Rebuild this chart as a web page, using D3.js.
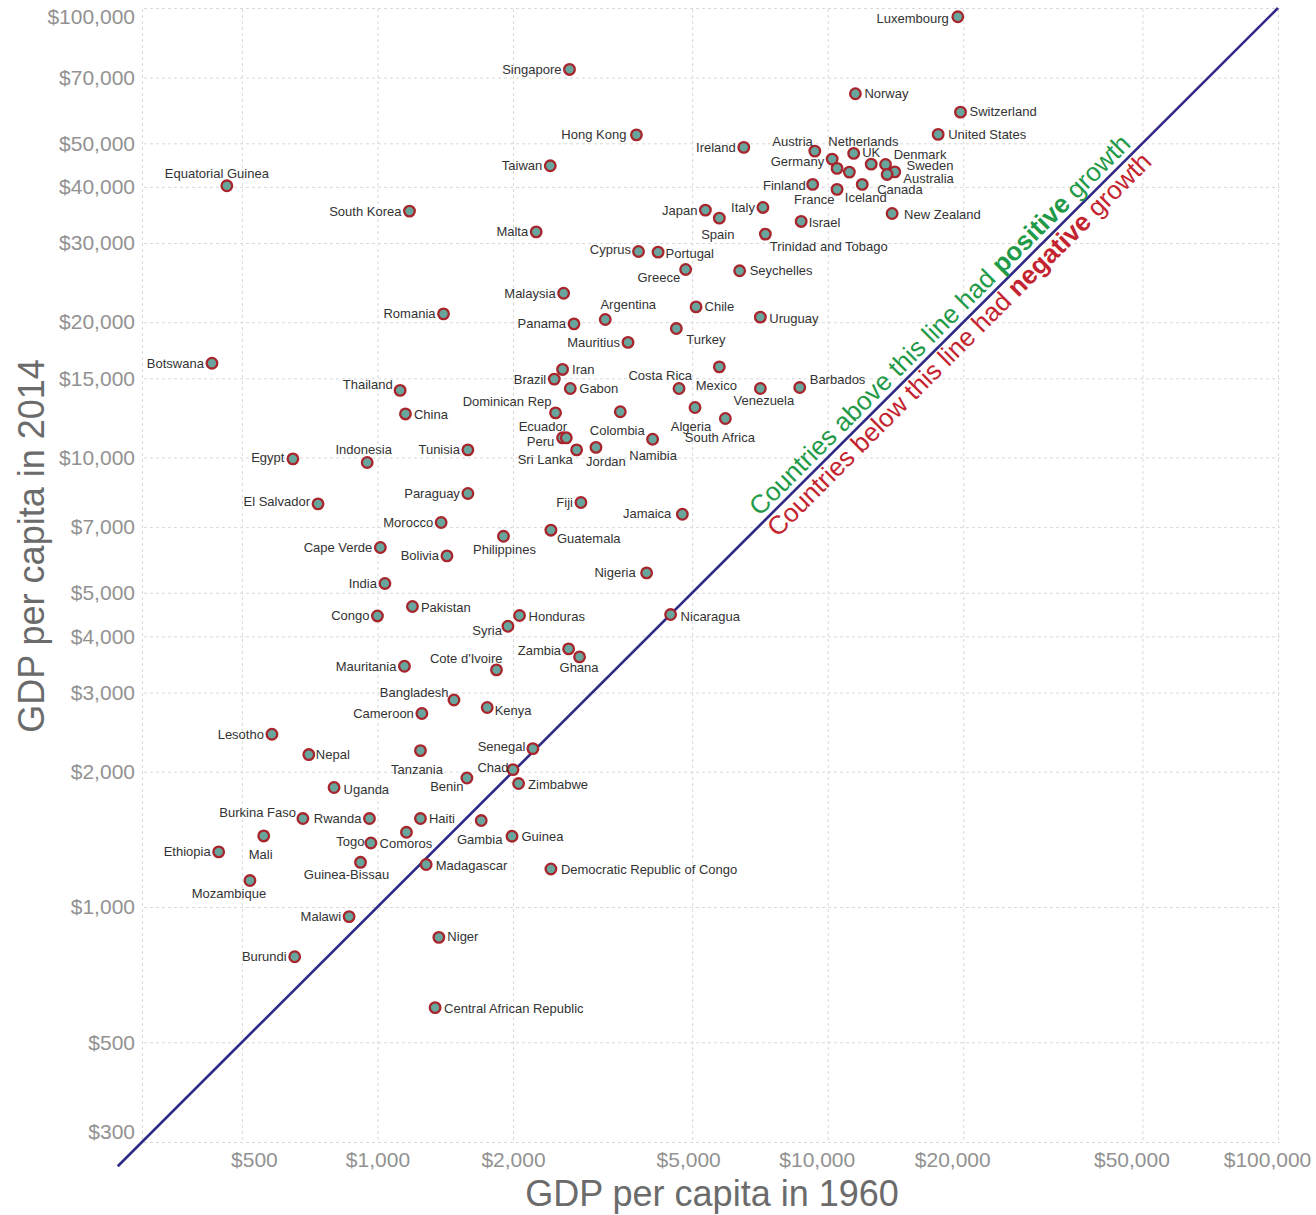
<!DOCTYPE html>
<html>
<head>
<meta charset="utf-8">
<script src="https://cdn.jsdelivr.net/npm/d3@7"></script>
<style>
  body { margin: 0; background: #fff; }
  svg { display: block; font-family: "Helvetica Neue", Helvetica, "Liberation Sans", Arial, sans-serif; }
  .grid line { stroke: #d9d9d9; stroke-dasharray: 3,3; }
  .grid .domain, .ticks .domain { display: none; }
  .ticks text { fill: #929292; font-size: 21px; font-family: inherit; }
  .country { fill: #333; font-size: 13px; }
</style>
</head>
<body>
<svg id="chart" width="1316" height="1215"></svg>
<script>
/* GDP per capita 1960 vs 2014, log-log scatter */
const countries = [
  'Luxembourg', 'Singapore', 'Norway', 'Switzerland', 'United States', 'Hong Kong', 'Ireland', 'Taiwan',
  'Equatorial Guinea', 'South Korea', 'Malta', 'Austria', 'Netherlands', 'UK', 'Germany', 'Belgium',
  'Denmark', 'Sweden', 'Australia', 'Canada', 'Finland', 'France', 'Iceland', 'Japan', 'Spain', 'Italy',
  'Trinidad and Tobago', 'Israel', 'New Zealand', 'Cyprus', 'Portugal', 'Greece', 'Seychelles', 'Malaysia',
  'Argentina', 'Chile', 'Uruguay', 'Panama', 'Turkey', 'Mauritius', 'Romania', 'Botswana', 'Thailand',
  'China', 'Iran', 'Brazil', 'Gabon', 'Costa Rica', 'Mexico', 'Venezuela', 'Barbados', 'Dominican Rep',
  'Colombia', 'Algeria', 'South Africa', 'Ecuador', 'Peru', 'Sri Lanka', 'Jordan', 'Namibia', 'Egypt',
  'Indonesia', 'Tunisia', 'Paraguay', 'El Salvador', 'Fiji', 'Jamaica', 'Morocco', 'Guatemala',
  'Philippines', 'Cape Verde', 'Bolivia', 'Nigeria', 'India', 'Pakistan', 'Congo', 'Honduras', 'Nicaragua',
  'Syria', 'Zambia', 'Ghana', 'Mauritania', "Cote d'Ivoire", 'Bangladesh', 'Kenya', 'Cameroon', 'Lesotho',
  'Nepal', 'Tanzania', 'Senegal', 'Chad', 'Benin', 'Zimbabwe', 'Uganda', 'Burkina Faso', 'Rwanda', 'Haiti',
  'Gambia', 'Guinea', 'Mali', 'Ethiopia', 'Togo', 'Comoros', 'Guinea-Bissau', 'Madagascar',
  'Democratic Republic of Congo', 'Mozambique', 'Malawi', 'Niger', 'Burundi', 'Central African Republic'
];
const gdp1960 = [
  19450, 2670, 11520, 19720, 17590, 3760, 6510, 2420,
  463, 1178, 2252, 9360, 11170, 11420, 10230, 10490,
  12490, 13440, 14090, 13550, 9260, 10490, 11930, 5350, 5745, 7180,
  7270, 8730, 13900, 3800, 4200, 4836, 6374, 2591,
  3206, 5100, 7086, 2732, 4611, 3601, 1402, 429, 1123,
  1154, 2577, 2470, 2681, 4675, 5745, 7086, 8666, 2486,
  3462, 5073, 5925, 2577, 2627, 2769, 3057, 4084, 649,
  949, 1588, 1588, 738, 2831, 4755, 1385, 2428,
  1905, 1015, 1427, 3961, 1039, 1196, 1000, 2068, 4478,
  1949, 2658, 2811, 1148, 1838, 1479, 1753, 1255, 583,
  704, 1246, 2214, 2000, 1580, 2058, 801, 683, 960, 1246,
  1700, 1990, 559, 444, 967, 1160, 917, 1283,
  2428, 521, 865, 1369, 655, 1343
];
const gdp2014 = [
  95600, 73000, 64450, 58660, 52330, 52220, 48960, 44560,
  40220, 35330, 31770, 48040, 43140, 47480, 46110, 43970,
  44940, 44870, 43200, 42630, 40510, 39490, 40510, 35510, 34080, 36000,
  31400, 33510, 34900, 28730, 28630, 26200, 26020, 23200,
  20280, 21630, 20520, 19830, 19360, 18030, 20870, 16210, 14100,
  12500, 15700, 14940, 14240, 14240, 15910, 14240, 14310, 12570,
  12640, 12920, 12210, 11060, 11060, 10400, 10530, 10980, 9930,
  9748, 10400, 8317, 7885, 7940, 7477, 7167, 6891,
  6679, 6306, 6040, 5536, 5245, 4661, 4441, 4450, 4473,
  4212, 3751, 3600, 3433, 3369, 2888, 2778, 2694, 2423,
  2183, 2228, 2251, 2021, 1936, 1882, 1844, 1573, 1573, 1573,
  1557, 1437, 1439, 1326, 1388, 1466, 1257, 1243,
  1215, 1145, 952, 856, 775, 597
];

const xGrid = [300, 500, 1000, 2000, 5000, 10000, 20000, 50000, 100000];
const xTicks = [500, 1000, 2000, 5000, 10000, 20000, 50000, 100000];
const yTicks = [300, 500, 1000, 2000, 3000, 4000, 5000, 7000, 10000, 15000, 20000, 30000, 40000, 50000, 70000, 100000];

// label placement: [anchor, dx, dy]; anything missing gets a plain left label
const labelPos = {
  'Luxembourg': ['e', -9, 6.5], 'Norway': ['s', 9, 4.5], 'Switzerland': ['s', 9, 4], 'United States': ['s', 10, 4.5],
  'Hong Kong': ['e', -10, 4], 'Equatorial Guinea': ['m', -10, -8], 'Austria': ['e', -2, -5.5],
  'Netherlands': ['m', 14, -26.5], 'UK': ['s', 8.5, 4], 'Germany': ['e', -8, 7], 'Belgium': null,
  'Denmark': ['s', 22.5, -5.5], 'Sweden': ['s', 21, 6], 'Australia': ['s', 8.5, 11], 'Canada': ['s', -10, 19.5],
  'Finland': ['e', -7, 6], 'France': ['e', -2.5, 14.5], 'Iceland': ['m', 3.5, 17.5], 'Spain': ['m', -1.5, 21],
  'Trinidad and Tobago': ['s', 4.5, 17], 'Israel': ['s', 7.5, 5.5], 'New Zealand': ['s', 12, 6],
  'Cyprus': ['e', -7.5, 3], 'Portugal': ['s', 7.5, 6], 'Greece': ['e', -5.5, 13], 'Seychelles': ['s', 10, 4.5],
  'Argentina': ['m', 23, -10], 'Chile': ['s', 8.5, 4.5], 'Uruguay': ['s', 9, 6], 'Turkey': ['s', 10, 15],
  'Thailand': ['e', -7.5, -1.5], 'China': ['s', 8.5, 5], 'Iran': ['s', 9.5, 4.5], 'Gabon': ['s', 9, 5],
  'Costa Rica': ['e', 13, -8], 'Mexico': ['m', -3, 23.5], 'Venezuela': ['m', 3.5, 17], 'Barbados': ['s', 10, -4],
  'Dominican Rep': ['e', -4, -7], 'Colombia': ['m', -3, 23.5], 'Algeria': ['m', -4, 24],
  'South Africa': ['m', -5.5, 23], 'Ecuador': ['e', 4.5, -6.5], 'Peru': ['e', -12, 8], 'Sri Lanka': ['e', -4, 14],
  'Jordan': ['m', 10, 19], 'Namibia': ['m', 0.5, 20.5], 'Egypt': ['e', -8.5, 3], 'Indonesia': ['m', -3.5, -8],
  'El Salvador': ['e', -8, 2], 'Jamaica': ['e', -11, 4], 'Guatemala': ['s', 6, 13], 'Philippines': ['m', 1, 17.5],
  'Nigeria': ['e', -11, 4], 'Pakistan': ['s', 8.5, 5], 'Honduras': ['s', 9, 5], 'Nicaragua': ['s', 10, 6],
  'Syria': ['e', -6, 9], 'Zambia': ['e', -7.5, 6], 'Ghana': ['m', -0.5, 15.5], "Cote d'Ivoire": ['e', 6, -7],
  'Bangladesh': ['e', -5.5, -3], 'Kenya': ['s', 7.5, 7], 'Nepal': ['s', 7, 4.5], 'Tanzania': ['m', -3.5, 23],
  'Senegal': ['e', -7.5, 2], 'Chad': ['e', -4.5, 2], 'Benin': ['e', -3.5, 13], 'Zimbabwe': ['s', 9.5, 5],
  'Uganda': ['s', 9.5, 6], 'Burkina Faso': ['e', -7, -2], 'Haiti': ['s', 8.5, 4.5], 'Gambia': ['m', -1.5, 23.5],
  'Guinea': ['s', 9.5, 4.5], 'Mali': ['m', -3, 23], 'Togo': ['e', -6.5, 3.5], 'Comoros': ['m', -0.5, 16],
  'Guinea-Bissau': ['m', -14, 16.5], 'Madagascar': ['s', 9.5, 5], 'Democratic Republic of Congo': ['s', 10, 5],
  'Mozambique': ['m', -21, 17], 'Niger': ['s', 8.5, 4], 'Central African Republic': ['s', 9, 5]
};
const ANCHOR = { s: 'start', e: 'end', m: 'middle' };

const svg = d3.select('#chart');
const x = d3.scaleLog().domain([300, 100000]).range([142, 1278]);
const y = d3.scaleLog().domain([300, 100000]).range([1142, 8]);
const money = d3.format('$,');

// grid
svg.append('g').attr('class', 'grid')
  .attr('transform', 'translate(142,0)')
  .call(d3.axisLeft(y).tickValues(yTicks).tickSize(-(1278 - 140)).tickFormat(''))
  .selectAll('line').attr('x1', 2);
svg.append('g').attr('class', 'grid')
  .attr('transform', 'translate(0,1140)')
  .call(d3.axisBottom(x).tickValues(xGrid).tickSize(-(1140 - 8)).tickFormat(''));

// tick labels (edge labels pulled inward like the original)
svg.append('g').attr('class', 'ticks')
  .attr('transform', 'translate(142,0)')
  .call(d3.axisLeft(y).tickValues(yTicks).tickSize(0).tickPadding(7).tickFormat(money))
  .selectAll('text')
  .attr('y', (d) => (d === 100000 ? 9 : d === 300 ? -10 : 0));
svg.append('g').attr('class', 'ticks')
  .attr('transform', 'translate(0,1142)')
  .call(d3.axisBottom(x).tickValues(xTicks).tickSize(0).tickPadding(10).tickFormat(money))
  .selectAll('text')
  .attr('x', (d) => (d === 500 ? 12 : d >= 10000 ? -11 : d === 5000 ? -4 : 0));

// equal-growth line
const diag = [265, 100000];
svg.append('path')
  .datum(diag)
  .attr('d', d3.line().x((v) => x(v)).y((v) => y(v)))
  .attr('fill', 'none')
  .attr('stroke', '#2f2a86')
  .attr('stroke-width', 2.6);

const angle = Math.atan2(y(100000) - y(1000), x(100000) - x(1000)) * 180 / Math.PI;
const note = svg.append('g')
  .attr('transform', 'translate(' + x(18700) + ',' + y(18700) + ') rotate(' + angle + ')')
  .attr('text-anchor', 'middle')
  .style('font-size', '26px');
const up = note.append('text').attr('y', -6).attr('fill', '#1f9a48');
up.append('tspan').text('Countries above this line had ');
up.append('tspan').attr('font-weight', 'bold').text('positive');
up.append('tspan').text(' growth');
const down = note.append('text').attr('y', 21.6).attr('fill', '#c3242f');
down.append('tspan').text('Countries below this line had ');
down.append('tspan').attr('font-weight', 'bold').text('negative');
down.append('tspan').text(' growth');

// points
const rows = countries.map((name, i) => ({ name, a: gdp1960[i], b: gdp2014[i] }));
svg.append('g').selectAll('circle')
  .data(rows)
  .join('circle')
  .attr('cx', (d) => x(d.a))
  .attr('cy', (d) => y(d.b))
  .attr('r', 5.3)
  .attr('fill', '#68a59d')
  .attr('stroke', '#a8252c')
  .attr('stroke-width', 2.3);

// labels
svg.append('g').selectAll('text')
  .data(rows.filter((d) => labelPos[d.name] !== null))
  .join('text')
  .attr('class', 'country')
  .each(function (d) {
    const p = labelPos[d.name] || ['e', -8, 4.5];
    d3.select(this)
      .attr('x', x(d.a) + p[1])
      .attr('y', y(d.b) + p[2])
      .attr('text-anchor', ANCHOR[p[0]]);
  })
  .text((d) => d.name);

// axis titles
svg.append('text')
  .attr('x', 712).attr('y', 1206)
  .attr('text-anchor', 'middle')
  .attr('fill', '#6b6b6b')
  .style('font-size', '36px')
  .text('GDP per capita in 1960');
svg.append('text')
  .attr('transform', 'translate(44,546) rotate(-90)')
  .attr('text-anchor', 'middle')
  .attr('fill', '#6b6b6b')
  .style('font-size', '36px')
  .text('GDP per capita in 2014');

svg.append('text')
  .attr('x', 70).attr('y', 1224)
  .attr('fill', '#aaa')
  .style('font-size', '13px')
  .text('Source: World Bank');
</script>
</body>
</html>
